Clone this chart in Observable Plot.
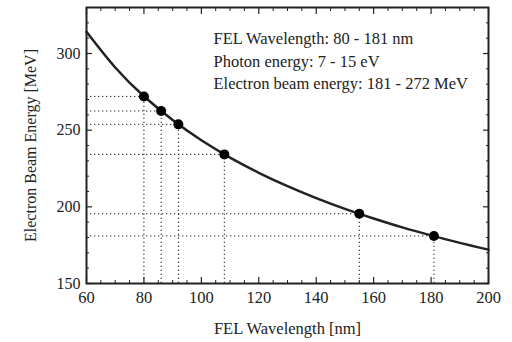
<!DOCTYPE html>
<html><head><meta charset="utf-8">
<script src="https://cdn.jsdelivr.net/npm/d3@7"></script>
<script src="https://cdn.jsdelivr.net/npm/@observablehq/plot@0.6"></script>
<style>body{margin:0;background:#fff}#chart svg{display:block}#chart svg, #chart svg text{font-family:"Liberation Serif","Times New Roman",Times,"DejaVu Serif","Noto Serif",serif !important}</style>
</head><body><div id="chart"></div>
<script>
const curveWavelength = [60, 70, 80, 90, 100, 110, 120, 130, 140, 150, 160, 170, 180, 190, 200];
const curveEnergy = [314.2, 290.9, 272.1, 256.6, 243.4, 232.1, 222.2, 213.5, 205.7, 198.7, 192.4, 186.6, 181.4, 176.5, 172.1];
const pointWavelength = [80, 86, 92, 108, 155, 181];
const pointEnergy = [272, 262.5, 253.8, 234.2, 195.5, 181];
const xMajorTicks = [60, 80, 100, 120, 140, 160, 180, 200];
const xMinorTicks = [65, 70, 75, 85, 90, 95, 105, 110, 115, 125, 130, 135, 145, 150, 155, 165, 170, 175, 185, 190, 195];
const yMajorTicks = [150, 200, 250, 300];
const yMinorTicks = [160, 170, 180, 190, 210, 220, 230, 240, 260, 270, 280, 290, 310, 320];
const annotationLines = ["FEL Wavelength: 80 - 181 nm", "Photon energy: 7 - 15 eV", "Electron beam energy: 181 - 272 MeV"];
const xLabel = "FEL Wavelength [nm]";
const yLabel = "Electron Beam Energy [MeV]";

const curve = curveWavelength.map((w, i) => ({w, e: curveEnergy[i]}));
const points = pointWavelength.map((w, i) => ({w, e: pointEnergy[i]}));
const ink = "#222";
const dots = "1.3,2.7";
const serif = '"Liberation Serif", "Times New Roman", Times, "DejaVu Serif", serif';

const chart = Plot.plot({
  width: 512, height: 342,
  marginLeft: 86, marginRight: 24, marginTop: 7, marginBottom: 59,
  style: {fontFamily: serif, fontSize: "16px", color: ink, background: "#fff"},
  x: {domain: [60, 200]},
  y: {domain: [150, 330]},
  marks: [
    Plot.ruleY(points, {y: "e", x1: 60, x2: "w", stroke: ink, strokeWidth: 1, strokeDasharray: dots}),
    Plot.ruleX(points, {x: "w", y1: 150, y2: "e", stroke: ink, strokeWidth: 1, strokeDasharray: dots}),
    Plot.line(curve, {x: "w", y: "e", curve: "natural", stroke: ink, strokeWidth: 2.5}),
    Plot.dot(points, {x: "w", y: "e", r: 5, fill: "#000", stroke: "none"}),
    Plot.text([annotationLines.join("\n")], {frameAnchor: "top-left", dx: 127, dy: 21, textAnchor: "start", lineAnchor: "top", lineHeight: 1.35, fontSize: 16.5, fontFamily: serif, fill: ink}),
    Plot.axisX({anchor: "bottom", ticks: xMajorTicks, tickSize: -6, tickPadding: 14, tickFormat: d => d, stroke: ink, strokeWidth: 1.2, label: xLabel, labelAnchor: "center", labelOffset: 50, labelArrow: false, fontSize: 16.5, fontFamily: serif}),
    Plot.axisX({anchor: "bottom", ticks: xMinorTicks, tickSize: -3, text: null, label: null, stroke: ink}),
    Plot.axisX({anchor: "top", ticks: xMajorTicks, tickSize: -6, text: null, label: null, stroke: ink, strokeWidth: 1.2}),
    Plot.axisX({anchor: "top", ticks: xMinorTicks, tickSize: -3, text: null, label: null, stroke: ink}),
    Plot.axisY({anchor: "left", ticks: yMajorTicks, tickSize: -6, tickPadding: 12, tickFormat: d => d, stroke: ink, strokeWidth: 1.2, label: yLabel, labelAnchor: "center", labelOffset: 62, labelArrow: false, fontSize: 16, fontFamily: serif}),
    Plot.axisY({anchor: "left", ticks: yMinorTicks, tickSize: -3, text: null, label: null, stroke: ink}),
    Plot.axisY({anchor: "right", ticks: yMajorTicks, tickSize: -6, text: null, label: null, stroke: ink, strokeWidth: 1.2}),
    Plot.axisY({anchor: "right", ticks: yMinorTicks, tickSize: -3, text: null, label: null, stroke: ink}),
    Plot.frame({stroke: ink, strokeWidth: 2})
  ]
});
document.getElementById("chart").append(chart);
</script>
</body></html>
